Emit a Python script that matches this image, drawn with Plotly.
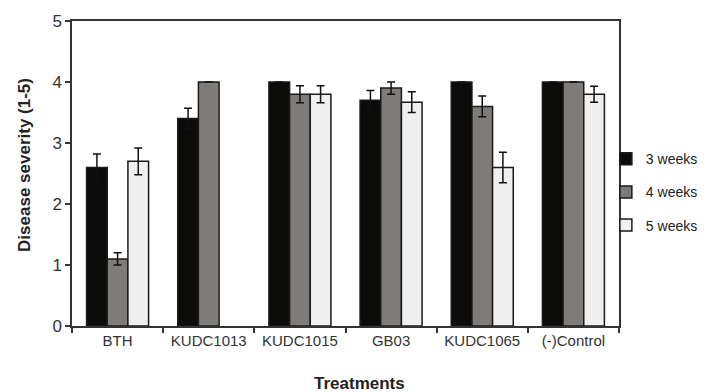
import plotly.graph_objects as go

categories = ["BTH", "KUDC1013", "KUDC1015", "GB03", "KUDC1065", "(-)Control"]
series_names = ["3 weeks", "4 weeks", "5 weeks"]
week3 = [2.6, 3.4, 4.0, 3.7, 4.0, 4.0]
week3_err = [0.22, 0.17, 0, 0.16, 0, 0]
week4 = [1.1, 4.0, 3.8, 3.9, 3.6, 4.0]
week4_err = [0.1, 0, 0.14, 0.1, 0.17, 0]
week5 = [2.7, None, 3.8, 3.67, 2.6, 3.8]
week5_err = [0.22, 0, 0.14, 0.17, 0.25, 0.13]
colors = ["#0b0b09", "#7f7b78", "#efefef"]

values = [week3, week4, week5]
errors = [week3_err, week4_err, week5_err]

fig = go.Figure()
for name, vals, errs, col in zip(series_names, values, errors, colors):
    fig.add_trace(go.Bar(
        x=categories, y=vals, name=name, legendgroup=name,
        marker=dict(color=col, line=dict(color="#1a1a1a", width=1.5)),
        error_y=dict(type="data", array=errs, visible=True,
                     color="#111111", thickness=1.5, width=4),
    ))

font_family = "Arial, Liberation Sans, sans-serif"
fig.update_layout(
    width=699, height=384,
    margin=dict(l=64, r=88, t=13, b=66, autoexpand=False),
    paper_bgcolor="white", plot_bgcolor="white",
    barmode="group", bargap=0.32, bargroupgap=0,
    font=dict(family=font_family, color="#333333"),
    showlegend=True,
    legend=dict(x=0.976, xanchor="left", y=0.439, yanchor="middle",
                font=dict(size=14, color="#222222"),
                traceorder="grouped", tracegroupgap=12,
                bgcolor="rgba(0,0,0,0)"),
    xaxis=dict(showline=True, linecolor="#333333", linewidth=1.5, mirror=True,
               ticks="outside", tickson="boundaries", ticklen=5,
               tickcolor="#333333", tickwidth=1.5,
               tickfont=dict(size=15, color="#333333"), showgrid=False),
    yaxis=dict(range=[0, 5], dtick=1, showline=True, linecolor="#333333",
               linewidth=1.5, mirror=True, ticks="outside", ticklen=5,
               tickcolor="#333333", tickwidth=1.5,
               tickfont=dict(size=17, color="#333333"), showgrid=False,
               zeroline=False),
    annotations=[
        dict(text="<b>Disease severity (1-5)</b>", xref="paper", yref="paper",
             x=-0.086, y=0.528, textangle=-90, showarrow=False,
             font=dict(size=17, color="#222222"), xanchor="center", yanchor="middle"),
        dict(text="<b>Treatments</b>", xref="paper", yref="paper",
             x=0.5265, y=-0.19, showarrow=False,
             font=dict(size=17, color="#222222"), xanchor="center", yanchor="middle"),
    ],
)

fig.write_html("out.html")
